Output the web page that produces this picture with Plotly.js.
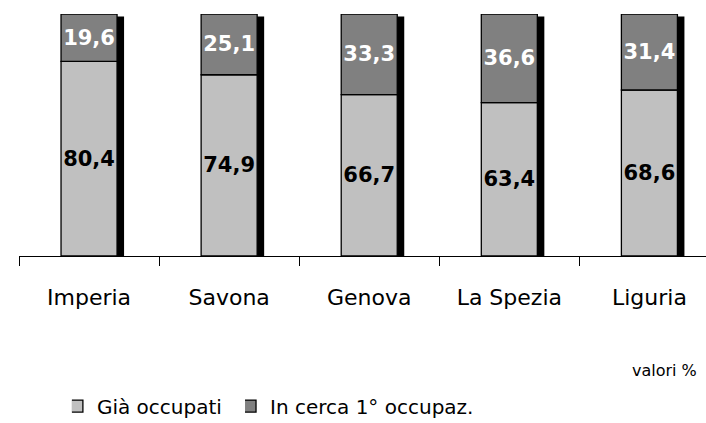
<!DOCTYPE html>
<html>
<head>
<meta charset="utf-8">
<script src="https://cdn.plot.ly/plotly-3.0.1.min.js"></script>
<style>
html,body{margin:0;padding:0;background:#fff;overflow:hidden;}
#chart{width:706px;height:423px;}
</style>
</head>
<body>
<div id="chart"></div>
<script>
var categories = ["Imperia", "Savona", "Genova", "La Spezia", "Liguria"];
var giaOccupati = [80.4, 74.9, 66.7, 63.4, 68.6];
var inCerca = [19.6, 25.1, 33.3, 36.6, 31.4];
var seriesNames = ["Già occupati", "In cerca 1° occupaz."];

var totals = giaOccupati.map(function (v, i) { return v + inCerca[i]; });
var shadowHeights = totals.map(function (t) { return t * 0.99; });

var barWidth = 0.4;

var traces = [
  {
    type: "bar", x: categories, y: shadowHeights,
    width: barWidth, offset: -barWidth / 2 + 0.05,
    marker: { color: "#000000", line: { width: 0 } },
    showlegend: false, hoverinfo: "skip"
  },
  {
    type: "bar", name: seriesNames[0], x: categories, y: giaOccupati,
    width: barWidth, offset: -barWidth / 2,
    marker: { color: "#c0c0c0", line: { color: "#000000", width: 1.3 } },
    texttemplate: "%{y:.1f}", textposition: "inside", insidetextanchor: "middle",
    constraintext: "none", textangle: 0,
    textfont: { family: "DejaVu Sans", size: 21, color: "#000000", weight: "bold" },
    legend: "legend"
  },
  {
    type: "bar", name: seriesNames[1], x: categories, y: inCerca, base: giaOccupati,
    width: barWidth, offset: -barWidth / 2,
    marker: { color: "#808080", line: { color: "#000000", width: 1.3 } },
    texttemplate: "%{y:.1f}", textposition: "inside", insidetextanchor: "middle",
    constraintext: "none", textangle: 0,
    textfont: { family: "DejaVu Sans", size: 21, color: "#ffffff", weight: "bold" },
    legend: "legend2"
  }
];

var legendCommon = {
  orientation: "h",
  yref: "paper", yanchor: "middle", xanchor: "left",
  bgcolor: "rgba(0,0,0,0)",
  font: { family: "DejaVu Sans", size: 20, color: "#000000" },
  indentation: -15,
  itemwidth: 30
};

var layout = {
  width: 706, height: 423,
  margin: { l: 19, r: 0, t: 14, b: 167, autoexpand: false },
  paper_bgcolor: "#ffffff", plot_bgcolor: "#ffffff",
  barmode: "overlay",
  separators: ",.",
  showlegend: true,
  xaxis: {
    type: "category",
    range: [-0.5, 4.404],
    tickson: "boundaries",
    ticks: "outside", ticklen: 9, tickcolor: "#000000", tickwidth: 1,
    showline: true, linecolor: "#000000", linewidth: 1,
    showgrid: false, zeroline: false,
    ticklabelstandoff: 22,
    tickfont: { family: "DejaVu Sans", size: 22, color: "#000000" }
  },
  yaxis: {
    range: [0, 100],
    visible: false, showgrid: false, zeroline: false
  },
  legend: Object.assign({}, legendCommon, { x: 0.077, y: -0.62 }),
  legend2: Object.assign({}, legendCommon, { x: 0.329, y: -0.62 }),
  annotations: [
    {
      text: "valori %", xref: "paper", yref: "paper",
      x: 0.99, y: -0.475, xanchor: "right", yanchor: "middle",
      showarrow: false,
      font: { family: "DejaVu Sans", size: 16, color: "#000000" }
    }
  ]
};

Plotly.newPlot("chart", traces, layout, { displayModeBar: false, staticPlot: true });
</script>
</body>
</html>
